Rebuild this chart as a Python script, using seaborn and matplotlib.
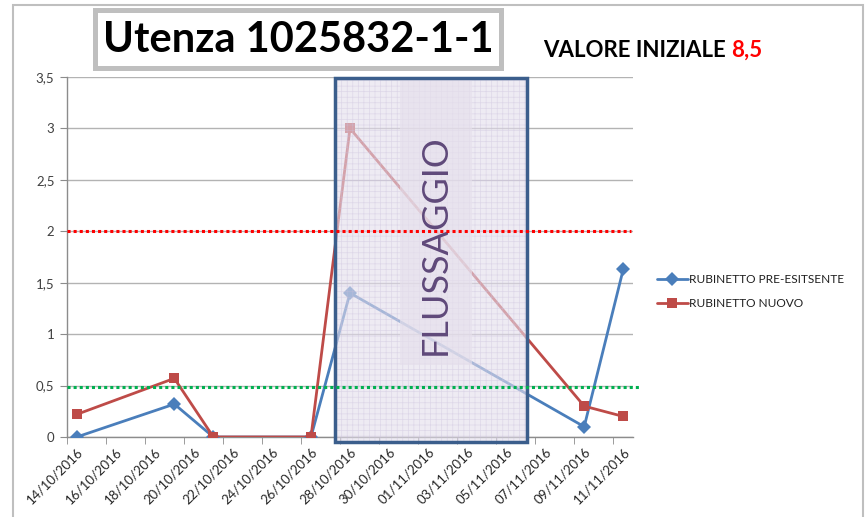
import pandas as pd
import matplotlib
matplotlib.use('Agg')
import matplotlib.pyplot as plt
import matplotlib.dates as mdates
import matplotlib.patches as mpatches
import seaborn as sns

# Data
dates = ['14/10/2016', '19/10/2016', '21/10/2016', '26/10/2016',
         '28/10/2016', '09/11/2016', '11/11/2016']
pre_esistente = [0, 0.32, 0, 0, 1.40, 0.10, 1.63]
nuovo = [0.22, 0.57, 0, 0, 3.0, 0.30, 0.20]
series_names = ['RUBINETTO PRE-ESITSENTE', 'RUBINETTO NUOVO']

tick_labels = ['14/10/2016', '16/10/2016', '18/10/2016', '20/10/2016', '22/10/2016',
               '24/10/2016', '26/10/2016', '28/10/2016', '30/10/2016', '01/11/2016',
               '03/11/2016', '05/11/2016', '07/11/2016', '09/11/2016', '11/11/2016']
y_ticks = [0, 0.5, 1, 1.5, 2, 2.5, 3, 3.5]

limit_high = 2.0
limit_low = 0.49
flush_start = '27/10/2016 06:00'
flush_end = '06/11/2016 02:00'

title = 'Utenza 1025832-1-1'
initial_value = '8,5'

sns.set_style("white")
plt.rcParams['font.family'] = ['Lato', 'DejaVu Sans']
plt.rcParams['hatch.linewidth'] = 0.5

df = pd.DataFrame({
    'data': pd.to_datetime(dates * 2, format='%d/%m/%Y'),
    'valore': pre_esistente + nuovo,
    'serie': [series_names[0]] * len(dates) + [series_names[1]] * len(dates),
})

fig = plt.figure(figsize=(8.65, 5.17), dpi=100)
ax = fig.add_axes([67 / 865, 80 / 517, 566 / 865, 360 / 517])

palette = {series_names[0]: '#4A7EBB', series_names[1]: '#BE4B48'}
sns.lineplot(data=df, x='data', y='valore', hue='serie', style='serie',
             palette=palette, markers={series_names[0]: 'D', series_names[1]: 's'},
             dashes=False, linewidth=2.0, markersize=7.5, markeredgewidth=0,
             ax=ax, zorder=3, legend=True)

d0 = pd.to_datetime(dates[0], format='%d/%m/%Y')
x0 = mdates.date2num(d0)
ax.set_xlim(x0 - 0.5, x0 + 28.5)
ax.set_ylim(0, 3.5)

# grid
for y in y_ticks:
    ax.axhline(y, color='#B3B3B3', lw=1.0, zorder=0)

# ticks
lab_dates = pd.to_datetime(tick_labels, format='%d/%m/%Y')
ax.set_xticks(mdates.date2num(lab_dates))
ax.set_xticklabels(tick_labels, rotation=45, ha='right', rotation_mode='anchor',
                   fontsize=9.5, color='#262626')
ax.set_xticks([x0 - 0.5 + 2 * k for k in range(15)], minor=True)
ax.tick_params(axis='x', which='major', length=0, pad=6)
ax.tick_params(axis='x', which='minor', length=5, color='#8C8C8C', bottom=True)
ax.set_yticks(y_ticks)
ax.set_yticklabels([f'{v:g}'.replace('.', ',') for v in y_ticks], fontsize=9.5, color='#404040')
ax.tick_params(axis='y', length=5, color='#8C8C8C', left=True, pad=4)
ax.set_xlabel('')
ax.set_ylabel('')
for s in ['top', 'right']:
    ax.spines[s].set_visible(False)
for s in ['left', 'bottom']:
    ax.spines[s].set_color('#8C8C8C')
    ax.spines[s].set_linewidth(1.0)

# flushing box
fs = mdates.date2num(pd.to_datetime(flush_start, format='%d/%m/%Y %H:%M'))
fe = mdates.date2num(pd.to_datetime(flush_end, format='%d/%m/%Y %H:%M'))
ax.add_patch(mpatches.Rectangle((fs, -0.05), fe - fs, 3.54, facecolor='#E4DEEC',
                                alpha=0.6, lw=0, zorder=4, clip_on=False))
ax.add_patch(mpatches.Rectangle((fs, -0.05), fe - fs, 3.54, facecolor='none',
                                edgecolor='#C9BFDB', hatch='+++', lw=0, zorder=4,
                                clip_on=False, alpha=0.45))
ax.add_patch(mpatches.Rectangle((fs + 3.3, 0.70), 3.7, 2.79, facecolor='#E6E0EC',
                                alpha=0.65, lw=0, zorder=4))
ax.add_patch(mpatches.Rectangle((fs, -0.05), fe - fs, 3.54, facecolor='none',
                                edgecolor='#3B5E8C', lw=2.5, zorder=5, clip_on=False))
ax.text(fs + 5.1, 1.87, 'FLUSSAGGIO', rotation=90, ha='center', va='center',
        fontsize=26, color='#5F497A', zorder=6)

# threshold lines
ax.plot([x0 - 0.5, x0 + 28.4], [limit_high] * 2, color='#FF0000', lw=2.2,
        ls=(0, (1, 1)), zorder=6, clip_on=False)
ax.plot([x0 - 0.5, x0 + 28.85], [limit_low] * 2, color='#00B050', lw=2.2,
        ls=(0, (1, 1)), zorder=6, clip_on=False)

# legend
handles, labels = ax.get_legend_handles_labels()
ax.legend(handles, labels, loc='upper left', bbox_to_anchor=(646 / 865, 1 - 263 / 517),
          bbox_transform=fig.transFigure, frameon=False, fontsize=8.6,
          handlelength=2.6, handletextpad=0.1, labelspacing=1.1, labelcolor='#1F1F1F')

# title box and heading texts
fig.patches.append(mpatches.Rectangle((95 / 865, 1 - 68 / 517), 406 / 865, 58 / 517,
                                      transform=fig.transFigure, facecolor='white',
                                      edgecolor='#BFBFBF', lw=3.6))
fig.text(298 / 865, 1 - 40 / 517, title, ha='center', va='center',
         fontsize=30, fontweight='bold', color='black')
t1 = fig.text(543 / 865, 1 - 57 / 517, 'VALORE INIZIALE ', ha='left', va='baseline',
              fontsize=16, fontweight='bold', color='black')
fig.canvas.draw()
bb = t1.get_window_extent()
fig.text(bb.x1 / 865, 1 - 57 / 517, initial_value, ha='left', va='baseline',
         fontsize=16, fontweight='bold', color='#FF0000')

# outer chart border
fig.patches.append(mpatches.Rectangle((13 / 865, -0.05), 850 / 865, 1.05 - 5 / 517,
                                      transform=fig.transFigure, facecolor='none',
                                      edgecolor='#BFBFBF', lw=1.5))

plt.savefig('out.png', dpi=100)
